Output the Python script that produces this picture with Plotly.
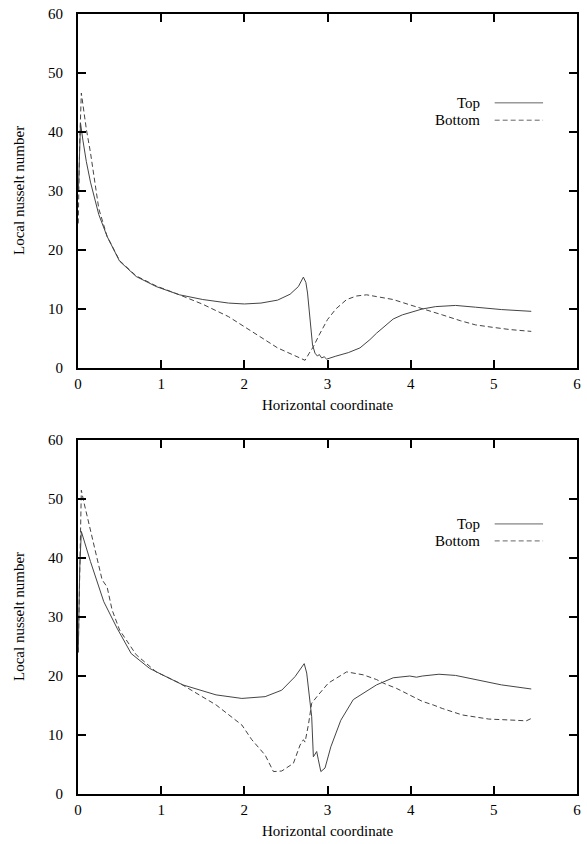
import plotly.graph_objects as go

# ---------------- data ----------------
# Upper panel
top1_x = [0.005, 0.02, 0.03, 0.06, 0.10, 0.15, 0.25, 0.35, 0.50, 0.70, 0.94, 1.22, 1.50, 1.81, 2.00,
          2.20, 2.40, 2.55, 2.65, 2.71, 2.74, 2.76, 2.79, 2.82, 2.85, 2.88, 2.90, 2.93, 2.96, 2.99,
          3.10, 3.25, 3.39, 3.51, 3.59, 3.70, 3.79, 3.90, 3.99, 4.14, 4.30, 4.54, 4.78, 5.09, 5.45]
top1_y = [30.0, 37.0, 41.5, 38.5, 35.0, 31.5, 26.0, 22.3, 18.1, 15.5, 13.8, 12.4, 11.6, 11.0, 10.85,
          11.0, 11.5, 12.5, 13.8, 15.4, 14.5, 12.7, 8.0, 3.9, 2.5, 2.0, 2.3, 1.7, 1.9, 1.5,
          2.0, 2.6, 3.4, 4.8, 5.9, 7.2, 8.3, 9.0, 9.4, 10.0, 10.4, 10.6, 10.3, 9.9, 9.6]

bot1_x = [0.003, 0.02, 0.04, 0.07, 0.10, 0.15, 0.25, 0.35, 0.50, 0.70, 0.94, 1.22, 1.50, 1.81, 2.00,
          2.20, 2.40, 2.55, 2.65, 2.73, 2.78, 2.83, 2.90, 3.00, 3.10, 3.23, 3.35, 3.47, 3.59, 3.79,
          3.99, 4.14, 4.38, 4.60, 4.78, 4.98, 5.20, 5.45]
bot1_y = [24.5, 38.0, 46.6, 43.5, 40.5, 36.5, 27.0, 22.3, 18.2, 15.6, 13.9, 12.4, 10.8, 8.7, 7.05,
          5.2, 3.4, 2.4, 1.7, 1.3, 2.5, 3.6, 5.6, 8.2, 10.0, 11.6, 12.2, 12.4, 12.1, 11.6,
          10.7, 10.0, 9.0, 8.0, 7.3, 6.9, 6.5, 6.2]

# Lower panel
top2_x = [0.003, 0.02, 0.04, 0.08, 0.15, 0.31, 0.47, 0.64, 0.86, 1.00, 1.26, 1.66, 1.97, 2.25, 2.45,
          2.61, 2.68, 2.72, 2.75, 2.81, 2.83, 2.87, 2.89, 2.92, 2.97, 3.01, 3.04, 3.16, 3.31, 3.59,
          3.79, 3.99, 4.07, 4.14, 4.34, 4.54, 4.86, 5.09, 5.45]
top2_y = [24.0, 38.0, 44.5, 42.5, 39.4, 32.6, 28.1, 23.8, 21.3, 20.3, 18.5, 16.8, 16.2, 16.5, 17.6,
          19.9, 21.3, 22.1, 20.5, 13.1, 6.3, 7.2, 5.8, 3.8, 4.4, 6.6, 8.0, 12.5, 16.0, 18.5,
          19.7, 20.0, 19.8, 20.0, 20.3, 20.1, 19.1, 18.5, 17.8]

bot2_x = [0.003, 0.02, 0.04, 0.07, 0.15, 0.29, 0.35, 0.41, 0.50, 0.70, 0.94, 1.22, 1.66, 1.97, 2.09,
          2.25, 2.35, 2.45, 2.59, 2.67, 2.71, 2.73, 2.77, 2.81, 2.89, 3.01, 3.23, 3.43, 3.59, 3.67,
          3.83, 3.99, 4.14, 4.27, 4.38, 4.62, 4.94, 5.26, 5.39, 5.45]
bot2_y = [24.0, 40.0, 51.5, 49.5, 44.7, 36.3, 35.1, 31.2, 27.8, 23.6, 20.7, 18.8, 15.1, 11.7, 9.2,
          6.6, 3.8, 3.9, 5.2, 8.3, 9.2, 8.8, 11.7, 15.4, 16.8, 18.8, 20.7, 20.2, 19.4, 18.8,
          17.9, 16.8, 15.7, 15.1, 14.5, 13.4, 12.7, 12.5, 12.4, 12.8]

x_ticks = [0, 1, 2, 3, 4, 5, 6]
y_ticks = [0, 10, 20, 30, 40, 50, 60]
series_names = ["Top", "Bottom"]
x_title = "Horizontal coordinate"
y_title = "Local nusselt number"

# ---------------- figure ----------------
FONT = "Liberation Serif"
FS = 15
LINE = "#444444"
DASH = "5px,3px"

fig = go.Figure()
panels = [((top1_x, top1_y), (bot1_x, bot1_y), "x", "y"),
          ((top2_x, top2_y), (bot2_x, bot2_y), "x2", "y2")]
for (a, b, xa, ya) in panels:
    fig.add_trace(go.Scatter(x=a[0], y=a[1], mode="lines", name=series_names[0],
                             line=dict(color=LINE, width=1), xaxis=xa, yaxis=ya, showlegend=False))
    fig.add_trace(go.Scatter(x=b[0], y=b[1], mode="lines", name=series_names[1],
                             line=dict(color=LINE, width=1, dash=DASH), xaxis=xa, yaxis=ya, showlegend=False))

axis_common = dict(showgrid=False, zeroline=False, showline=True, linecolor="black", linewidth=2,
                   mirror="ticks", ticks="inside", ticklen=8, tickwidth=2, tickcolor="black",
                   tickfont=dict(family=FONT, size=FS, color="black"))

fig.update_layout(
    width=587, height=844,
    margin=dict(l=78, r=6, t=14, b=50),
    paper_bgcolor="white", plot_bgcolor="white",
    font=dict(family=FONT, size=FS, color="black"),
    showlegend=False,
    xaxis=dict(domain=[0, 1], range=[0, 6], tickvals=x_ticks, anchor="y", ticklabelstandoff=1, **axis_common),
    yaxis=dict(domain=[0.5462, 1], range=[0, 60], tickvals=y_ticks, anchor="x", ticklabelstandoff=10, **axis_common),
    xaxis2=dict(domain=[0, 1], range=[0, 6], tickvals=x_ticks, anchor="y2", ticklabelstandoff=1, **axis_common),
    yaxis2=dict(domain=[0, 0.4538], range=[0, 60], tickvals=y_ticks, anchor="x2", ticklabelstandoff=10, **axis_common),
)

annotations = []
shapes = []
for xa, ya, ly1, ly2 in [("x", "y", 0.749, 0.700), ("x2", "y2", 0.763, 0.715)]:
    # axis titles
    annotations.append(dict(text=x_title, xref=xa + " domain", yref=ya + " domain", x=0.5, y=0,
                            yshift=-37, showarrow=False, xanchor="center", yanchor="middle",
                            font=dict(family=FONT, size=FS, color="black")))
    annotations.append(dict(text=y_title, xref="paper", yref=ya + " domain", x=0, y=0.5,
                            xshift=-59, showarrow=False, textangle=-90, xanchor="center", yanchor="middle",
                            font=dict(family=FONT, size=FS, color="black")))
    # legend (gnuplot style: text left, key right)
    for name, ly, dash in [(series_names[0], ly1, None), (series_names[1], ly2, DASH)]:
        annotations.append(dict(text=name, xref=xa + " domain", yref=ya + " domain", x=0.809, y=ly,
                                showarrow=False, xanchor="right", yanchor="middle",
                                font=dict(family=FONT, size=FS, color="black")))
        shapes.append(dict(type="line", xref=xa + " domain", yref=ya + " domain",
                           x0=0.835, x1=0.932, y0=ly, y1=ly,
                           line=dict(color="#666", width=1, dash=dash)))

fig.update_layout(annotations=annotations, shapes=shapes)
fig.write_html("out.html", config={"displayModeBar": False},
               post_script="document.body.style.margin='0px';")
